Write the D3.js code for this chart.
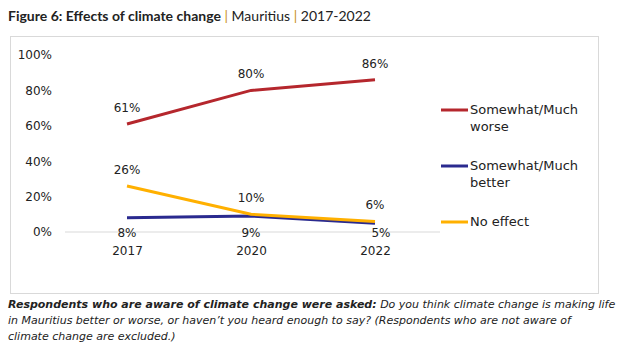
<!DOCTYPE html>
<html><head><meta charset="utf-8">
<script src="https://cdn.jsdelivr.net/npm/d3@7"></script>
<style>body{margin:0;background:#fff;}svg{display:block;font-family:"DejaVu Sans",sans-serif;}</style>
</head><body><svg id="c" width="620" height="360"></svg>
<script>
const years = ["2017","2020","2022"];
const seriesNames = ["Somewhat/Much worse","Somewhat/Much better","No effect"];
const worse = [61,80,86];
const better = [8,9,5];
const noEffect = [26,10,6];
const yTicks = [0,20,40,60,80,100];
const colors = ["#B5272D","#2A2A8F","#FFB000"];
const FONT = "'DejaVu Sans', sans-serif";

const svg = d3.select("#c");
// title
const t = svg.append("text").attr("x",8).attr("y",21).attr("font-size",14).attr("fill","#222").attr("font-family","Lato, sans-serif");
t.append("tspan").attr("font-weight","bold").text("Figure 6: Effects of climate change");
t.append("tspan").attr("fill","#c8901a").text(" | ");
t.append("tspan").text("Mauritius");
t.append("tspan").attr("fill","#c8901a").text(" | ");
t.append("tspan").text("2017-2022");

// frame
svg.append("rect").attr("x",10.5).attr("y",36.5).attr("width",588).attr("height",257)
  .attr("fill","none").attr("stroke","#d9d9d9").attr("stroke-width",1);

const x = d3.scalePoint().domain(years).range([127,375]);
const y = d3.scaleLinear().domain([0,100]).range([232,55]);

// baseline
svg.append("line").attr("x1",65).attr("x2",440).attr("y1",y(0)).attr("y2",y(0))
  .attr("stroke","#d9d9d9").attr("stroke-width",1);

// y axis labels
const yAxis = d3.axisLeft(y).tickValues(yTicks).tickFormat(d=>d+"%").tickSize(0).tickPadding(0);
const ga = svg.append("g").attr("transform","translate(52,0)").call(yAxis);
ga.select(".domain").remove();
ga.selectAll("text").attr("font-size",12).attr("fill","#222").attr("font-family",FONT);

// x axis labels
const xAxis = d3.axisBottom(x).tickSize(0).tickPadding(0);
const gx = svg.append("g").attr("transform","translate(0,246)").call(xAxis);
gx.select(".domain").remove();
gx.selectAll("text").attr("font-size",12).attr("fill","#222").attr("font-family",FONT);

const data = [worse,better,noEffect];
const line = d3.line().x((d,i)=>x(years[i])).y(d=>y(d));
const order = [1,2,0];
order.forEach(k=>{
  svg.append("path").attr("d",line(data[k])).attr("fill","none")
    .attr("stroke",colors[k]).attr("stroke-width",3).attr("stroke-linecap","butt");
});
// labels
data.forEach((vals,k)=>{
  vals.forEach((v,i)=>{
    const below = k===1;
    svg.append("text").attr("x",x(years[i]) + (below && i===2 ? 6 : 0))
      .attr("y", below ? y(0)+ 5 : y(v)-12)
      .attr("text-anchor","middle").attr("font-size",12).attr("fill","#222").text(v+"%");
  });
});

// legend
const legY = [110,166,222];
seriesNames.forEach((n,k)=>{
  const g = svg.append("g").attr("transform",`translate(441,${legY[k]})`);
  g.append("line").attr("x1",0).attr("x2",27).attr("stroke",colors[k]).attr("stroke-width",3);
  const words = n==="No effect" ? ["No effect"] : ["Somewhat/Much", n.split(" ")[1]];
  words.forEach((w,j)=>g.append("text").attr("x",29).attr("y",4+j*17).attr("font-size",13).attr("fill","#222").text(w));
});

// footer
const foot = [
  [["Respondents who are aware of climate change were asked:",true],[" Do you think climate change is making life",false]],
  [["in Mauritius better or worse, or haven\u2019t you heard enough to say? (Respondents who are not aware of",false]],
  [["climate change are excluded.)",false]]
];
foot.forEach((ln,i)=>{
  const tx = svg.append("text").attr("x",8).attr("y",308+i*16).attr("font-size",11).attr("font-style","italic").attr("fill","#222");
  ln.forEach(([s,b])=>tx.append("tspan").attr("font-weight",b?"bold":"normal").text(s));
});
</script></body></html>
